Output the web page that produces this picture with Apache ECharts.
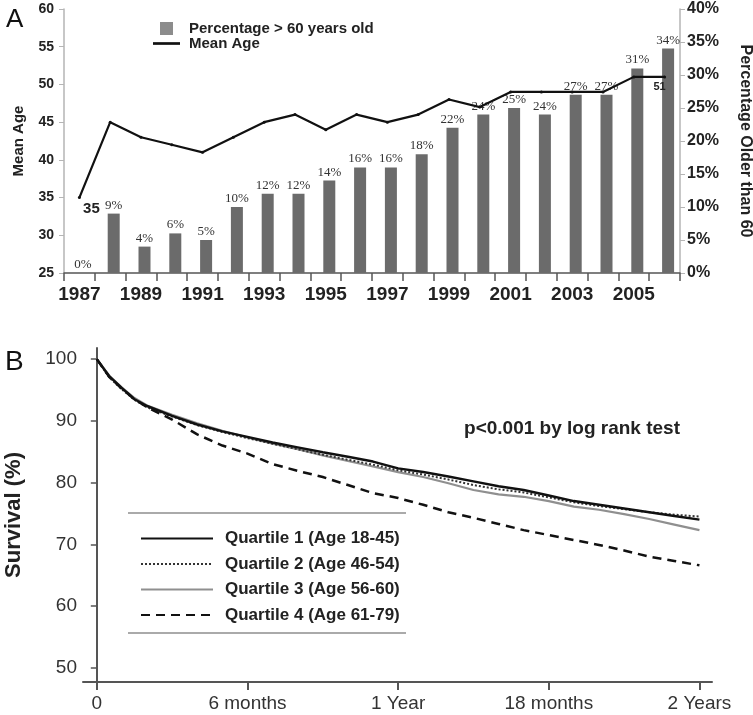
<!DOCTYPE html>
<html>
<head>
<meta charset="utf-8">
<script src="https://cdn.jsdelivr.net/npm/echarts@6/dist/echarts.min.js"></script>
<style>
html,body{margin:0;padding:0;background:#fff;}
#c{width:753px;height:715px;}
</style>
</head>
<body>
<div id="c"></div>
<script>
// ---- Panel A data ----
var years = ['1987','1988','1989','1990','1991','1992','1993','1994','1995','1996','1997','1998','1999','2000','2001','2002','2003','2004','2005','2006'];
var pctOver60 = [0,9,4,6,5,10,12,12,14,16,16,18,22,24,25,24,27,27,31,34];
var meanAge = [35,45,43,42,41,43,45,46,44,46,45,46,48,47,49,49,49,49,51,51];

// ---- Panel B data (months, survival %) ----
var months = [0,0.5,1,1.5,2,3,4,5,6,7,8,9,10,11,12,13,14,15,16,17,18,19,20,21,22,23,24];
var q1 = [100,97.2,95.3,93.5,92.4,90.8,89.4,88.3,87.4,86.5,85.7,84.9,84.2,83.4,82.3,81.7,81.0,80.2,79.4,78.8,77.9,77.0,76.4,75.8,75.2,74.6,74.0];
var q2 = [100,97.0,95.1,93.4,92.2,90.7,89.3,88.2,87.2,86.3,85.4,84.5,83.7,82.9,82.0,81.3,80.5,79.6,78.9,78.4,77.6,76.8,76.2,75.7,75.2,74.8,74.5];
var q3 = [100,97.3,95.4,93.7,92.5,91.0,89.6,88.4,87.3,86.3,85.4,84.4,83.5,82.6,81.7,80.9,79.9,78.8,78.1,77.7,77.0,76.1,75.6,74.9,74.1,73.2,72.3];
var q4 = [100,97.1,95.2,93.5,92.2,90.2,87.8,86.0,84.7,83.0,81.9,80.9,79.6,78.3,77.5,76.4,75.2,74.3,73.3,72.3,71.5,70.7,69.9,69.0,68.0,67.3,66.6];
var survTicks = [50,60,70,80,90,100];
var timeTicks = [0,6,12,18,24];
var timeLabels = ['0','6 months','1 Year','18 months','2 Years'];
var qNames = ['Quartile 1 (Age 18-45)','Quartile 2 (Age 46-54)','Quartile 3 (Age 56-60)','Quartile 4 (Age 61-79)'];

function pairs(xs, ys){ return xs.map(function(x,i){ return [x, ys[i]]; }); }

var SANS = 'Liberation Sans, Arial, sans-serif';
var SERIF = 'Liberation Serif, Times New Roman, serif';

var chart = echarts.init(document.getElementById('c'), null, {renderer:'canvas'});

var lineData = meanAge.map(function(v,i){
  if (i === 0) return {value:v, label:{show:true, position:'bottom', offset:[12,-3], formatter:'{c}', fontFamily:SANS, fontWeight:'bold', fontSize:15, color:'#222'}};
  if (i === meanAge.length-1) return {value:v, label:{show:true, position:'bottom', offset:[-5,-2], formatter:'{c}', fontFamily:SANS, fontWeight:'bold', fontSize:11, color:'#222'}};
  return v;
});

var option = {
  animation:false,
  backgroundColor:'#fff',
  textStyle:{fontFamily:SANS},
  title:[
    {text:'A', left:1, top:2, textStyle:{fontFamily:SANS, fontWeight:'normal', fontSize:26, color:'#111'}},
    {text:'B', left:0, top:343, textStyle:{fontFamily:SANS, fontWeight:'normal', fontSize:28, color:'#111'}},
    {text:'p<0.001 by log rank test', left:567, top:414, textAlign:'center', textStyle:{fontFamily:SANS, fontWeight:'bold', fontSize:19, color:'#222'}}
  ],
  legend:[
    {
      left:148, top:16, orient:'vertical', itemWidth:27, itemHeight:13, itemGap:0,
      textStyle:{fontFamily:SANS, fontWeight:'bold', fontSize:15, color:'#222', padding:[0,0,0,4]},
      data:[
        {name:'Percentage > 60 years old', icon:'path://M0,0H10V10H0Z', itemStyle:{color:'#8c8c8c'}},
        {name:'Mean Age', icon:'path://M0,0H30V3H0Z', itemStyle:{color:'#111'}}
      ]
    },
    {
      left:135, top:525, orient:'vertical', itemWidth:72, itemHeight:14, itemGap:8.5,
      itemStyle:{opacity:0},
      textStyle:{fontFamily:SANS, fontWeight:'bold', fontSize:17, color:'#222', padding:[0,0,0,7]},
      data:qNames
    }
  ],
  graphic:[
    {type:'line', shape:{x1:128,y1:513,x2:406,y2:513}, style:{stroke:'#aaa', lineWidth:2}},
    {type:'line', shape:{x1:128,y1:633,x2:406,y2:633}, style:{stroke:'#aaa', lineWidth:2}}
  ],
  grid:[
    {left:64, right:73, top:9, height:264, outerBoundsMode:'none', containLabel:false},
    {left:83, right:41, top:348, height:334, outerBoundsMode:'none', containLabel:false}
  ],
  xAxis:[
    {
      gridIndex:0, type:'category', data:years, boundaryGap:true,
      axisLine:{lineStyle:{color:'#555', width:1.5}},
      axisTick:{show:true, interval:0, length:8, lineStyle:{color:'#555', width:1.5}},
      axisLabel:{interval:1, margin:12, fontFamily:SANS, fontWeight:'bold', fontSize:19, color:'#222'},
      splitLine:{show:false}
    },
    {
      gridIndex:1, type:'value', min:-0.55, max:24.5,
      axisLine:{lineStyle:{color:'#555', width:2}},
      axisTick:{show:true, length:8, customValues:timeTicks, lineStyle:{color:'#555', width:2}},
      axisLabel:{customValues:timeTicks, margin:12, fontFamily:SANS, fontSize:19, color:'#333',
        formatter:function(v){ var i = timeTicks.indexOf(v); return i>=0 ? timeLabels[i] : ''; }},
      splitLine:{show:false}
    }
  ],
  yAxis:[
    {
      gridIndex:0, type:'value', min:25, max:60, interval:5, position:'left',
      name:'Mean Age', nameLocation:'middle', nameGap:38, nameRotate:90,
      nameTextStyle:{fontFamily:SANS, fontWeight:'bold', fontSize:15, color:'#222'},
      axisLine:{show:true, lineStyle:{color:'#b5b5b5', width:1.5}},
      axisTick:{show:true, length:5, lineStyle:{color:'#b5b5b5'}},
      axisLabel:{margin:10, fontFamily:SANS, fontWeight:'bold', fontSize:14, color:'#222'},
      splitLine:{show:false}
    },
    {
      gridIndex:0, type:'value', min:0, max:40, interval:5, position:'right',
      name:'Percentage Older than 60', nameLocation:'middle', nameGap:57, nameRotate:-90,
      nameTextStyle:{fontFamily:SANS, fontWeight:'bold', fontSize:16, color:'#222'},
      axisLine:{show:true, lineStyle:{color:'#b5b5b5', width:1.5}},
      axisTick:{show:true, length:5, lineStyle:{color:'#b5b5b5'}},
      axisLabel:{margin:7, formatter:'{value}%', fontFamily:SANS, fontWeight:'bold', fontSize:16, color:'#222'},
      splitLine:{show:false}
    },
    {
      gridIndex:1, type:'value', min:47.7, max:101.8,
      name:'Survival (%)', nameLocation:'middle', nameGap:58, nameRotate:90,
      nameTextStyle:{fontFamily:SANS, fontWeight:'bold', fontSize:22, color:'#222'},
      axisLine:{show:true, lineStyle:{color:'#555', width:2}},
      axisTick:{show:true, length:6, customValues:survTicks, lineStyle:{color:'#555', width:1.5}},
      axisLabel:{customValues:survTicks, margin:6, fontFamily:SANS, fontSize:19, color:'#333'},
      splitLine:{show:false}
    }
  ],
  series:[
    {
      name:'pad', type:'bar', xAxisIndex:0, yAxisIndex:1, barWidth:7, barGap:'0%',
      data:years.map(function(){ return '-'; }), silent:true
    },
    {
      name:'Percentage > 60 years old', type:'bar', xAxisIndex:0, yAxisIndex:1, barWidth:12, barGap:'0%',
      data:pctOver60,
      itemStyle:{color:'#6b6b6b'},
      label:{show:true, position:'top', distance:2, formatter:'{c}%', fontFamily:SERIF, fontSize:13, color:'#333'}
    },
    {
      name:'Mean Age', type:'line', xAxisIndex:0, yAxisIndex:0,
      data:lineData, symbol:'circle', symbolSize:3, z:5,
      lineStyle:{color:'#111', width:2.2}, itemStyle:{color:'#111'}
    },
    {
      name:qNames[2], type:'line', xAxisIndex:1, yAxisIndex:2, data:pairs(months,q3), symbol:'none',
      lineStyle:{color:'#8f8f8f', width:2.2}, itemStyle:{color:'#8f8f8f'}, z:2
    },
    {
      name:qNames[1], type:'line', xAxisIndex:1, yAxisIndex:2, data:pairs(months,q2), symbol:'none',
      lineStyle:{color:'#333', width:2, type:[2,2]}, itemStyle:{color:'#333'}, z:3
    },
    {
      name:qNames[0], type:'line', xAxisIndex:1, yAxisIndex:2, data:pairs(months,q1), symbol:'none',
      lineStyle:{color:'#111', width:2.5}, itemStyle:{color:'#111'}, z:4
    },
    {
      name:qNames[3], type:'line', xAxisIndex:1, yAxisIndex:2, data:pairs(months,q4), symbol:'none',
      lineStyle:{color:'#111', width:2.5, type:[9,6]}, itemStyle:{color:'#111'}, z:4
    }
  ]
};
chart.setOption(option);
</script>
</body>
</html>
